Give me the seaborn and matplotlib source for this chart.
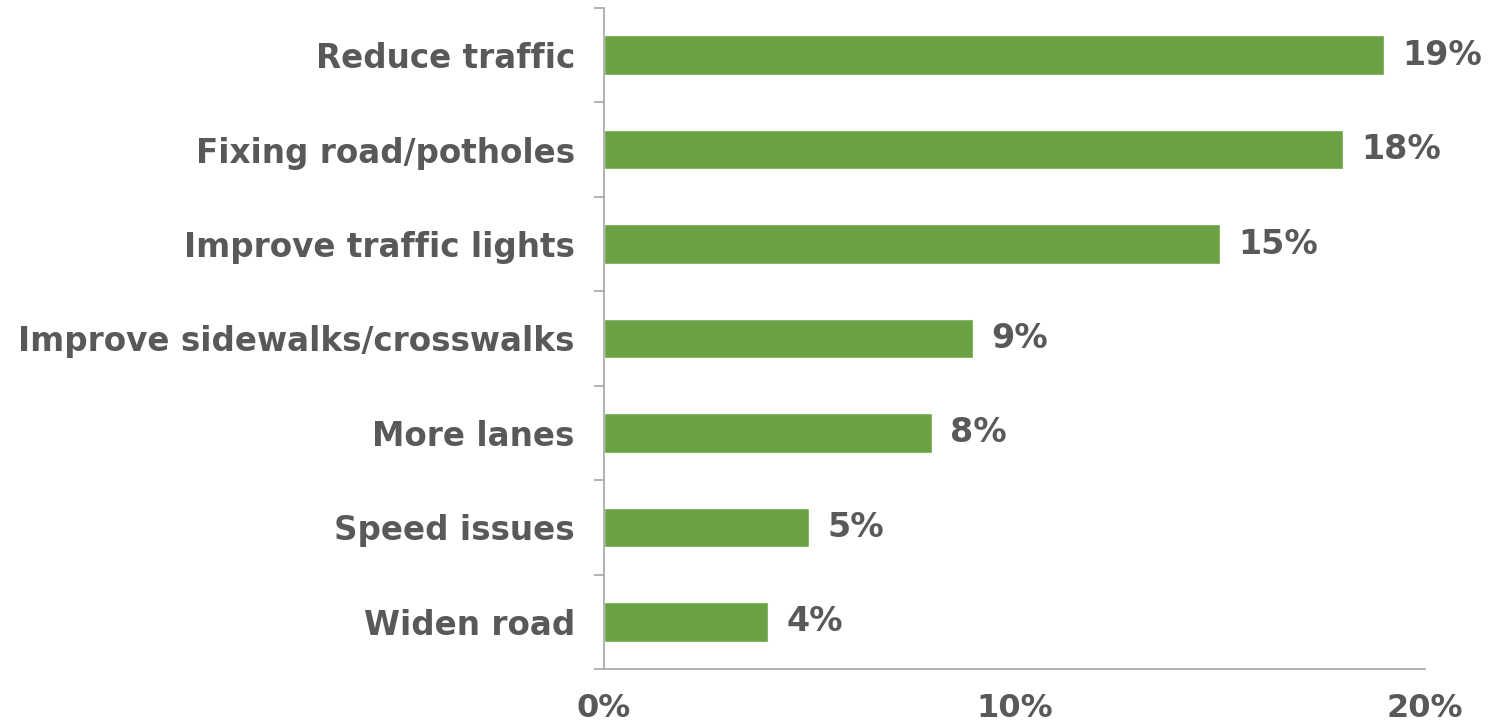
import matplotlib
matplotlib.use("Agg")
import matplotlib.pyplot as plt
from matplotlib.ticker import FixedLocator, PercentFormatter
import seaborn as sns
import pandas as pd

categories = [
    "Reduce traffic",
    "Fixing road/potholes",
    "Improve traffic lights",
    "Improve sidewalks/crosswalks",
    "More lanes",
    "Speed issues",
    "Widen road",
]
shares = [19, 18, 15, 9, 8, 5, 4]
x_ticks = [0, 10, 20]

sns.set_style("white")
plt.rcParams["font.family"] = ["DejaVu Sans"]

bar_color = "#6aa243"
text_color = "#58595b"
axis_color = "#a6a6a6"

df = pd.DataFrame({"issue": categories, "share": shares})

fig = plt.figure(figsize=(14.89, 7.27), dpi=100)
ax = fig.add_axes([604 / 1489, 58 / 727, 821 / 1489, 661 / 727])

sns.barplot(data=df, x="share", y="issue", orient="h", color=bar_color,
            width=0.42, saturation=1, ax=ax)

ax.set_xlim(0, 20)
ax.set_ylim(len(categories) - 0.5, -0.5)
ax.set_xlabel("")
ax.set_ylabel("")

for spine in ["top", "right"]:
    ax.spines[spine].set_visible(False)
for spine in ["left", "bottom"]:
    ax.spines[spine].set_color(axis_color)
    ax.spines[spine].set_linewidth(1.2)

# x axis: percent ticks pointing down
ax.xaxis.set_major_locator(FixedLocator(x_ticks))
ax.xaxis.set_major_formatter(PercentFormatter(decimals=0))
ax.tick_params(axis="x", which="major", direction="out", length=8, width=1.2,
               color=axis_color, pad=9, labelsize=23, labelcolor=text_color)
for lbl in ax.get_xticklabels():
    lbl.set_fontweight("bold")

# y axis: labels at bar centres, tick marks at category boundaries
ax.yaxis.set_minor_locator(FixedLocator([i - 0.5 for i in range(len(categories) + 1)]))
ax.tick_params(axis="y", which="major", length=0, pad=21, labelsize=23.5,
               labelcolor=text_color)
ax.tick_params(axis="y", which="minor", direction="out", length=7, width=1.2,
               color=axis_color, left=True)
for lbl in ax.get_yticklabels():
    lbl.set_fontweight("bold")

for i, v in enumerate(shares):
    ax.annotate(f"{v}%", xy=(v, i), xytext=(13, 0), textcoords="offset points",
                ha="left", va="center", fontsize=24, fontweight="bold",
                color=text_color, annotation_clip=False)

fig.savefig("out.png", dpi=100, facecolor="white")
